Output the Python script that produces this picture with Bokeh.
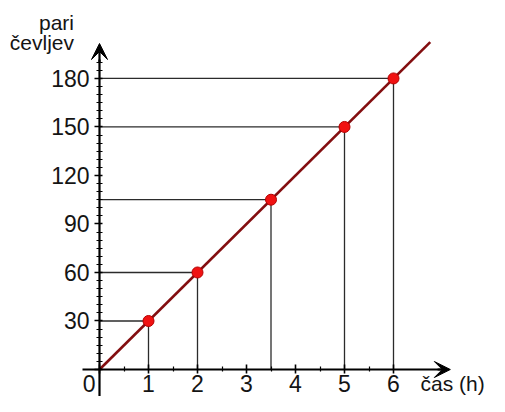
from bokeh.plotting import figure
from bokeh.models import FixedTicker, Range1d, Arrow, VeeHead, Label
from bokeh.embed import file_html
from bokeh.resources import INLINE

# data
hours = [1, 2, 3.5, 5, 6]
pairs = [30, 60, 105, 150, 180]
trend_hours = [0, 6.75]
trend_pairs = [0, 202.5]
x_ticks = [0, 1, 2, 3, 4, 5, 6]
x_labels = {0: "", 1: "1", 2: "2", 3: "3", 4: "4", 5: "5", 6: "6"}
x_minor = [0.5, 1.5, 2.5, 3.5, 4.5, 5.5]
y_ticks = [0, 30, 60, 90, 120, 150, 180]
y_minor = [5, 10, 15, 20, 25, 35, 40, 45, 50, 55, 65, 70, 75, 80, 85, 95, 100, 105, 110, 115,
           125, 130, 135, 140, 145, 155, 160, 165, 170, 175, 185, 190]
origin_label = "0"
x_title = "čas (h)"
y_title = ["pari", "čevljev"]

# layout (pixels inside the figure)
W, H = 489, 396
ORX, ORY = 99, 369          # origin position in figure pixels (from top-left)
SX, SY = 49.0, 1.617        # pixels per hour, pixels per pair

x0 = -ORX / SX
x1 = x0 + W / SX
y0 = -(H - ORY) / SY
y1 = y0 + H / SY

FONT = "Liberation Sans"
FS = "23px"
FS_T = "21px"
INK = "#141414"

p = figure(width=W, height=H, x_range=Range1d(x0, x1), y_range=Range1d(y0, y1),
           output_backend="svg", toolbar_location=None,
           min_border_left=0, min_border_top=0, min_border_right=0, min_border_bottom=0)
p.grid.visible = False
p.outline_line_color = None
p.background_fill_color = "white"

for ax in (p.xaxis, p.yaxis):
    ax.fixed_location = 0
    ax.axis_line_width = 2.2
    ax.axis_line_color = "black"
    ax.major_tick_line_color = "black"
    ax.minor_tick_line_color = "black"
    ax.major_tick_line_width = 1.6
    ax.minor_tick_line_width = 1.2
    ax.major_label_text_font = FONT
    ax.major_label_text_font_size = FS
    ax.major_label_text_color = INK

p.xaxis.bounds = (-0.35, 7.0)
p.xaxis.ticker = FixedTicker(ticks=x_ticks, minor_ticks=x_minor)
p.xaxis.major_label_overrides = x_labels
p.xaxis.major_tick_in = 5
p.xaxis.major_tick_out = 4
p.xaxis.minor_tick_in = 3
p.xaxis.minor_tick_out = 2
p.xaxis.major_label_standoff = 1

p.yaxis.bounds = (y0, 192)
p.yaxis.ticker = FixedTicker(ticks=y_ticks, minor_ticks=y_minor)
p.yaxis.major_label_overrides = {0: ""}
p.yaxis.major_tick_in = 3
p.yaxis.major_tick_out = 5
p.yaxis.minor_tick_in = 3
p.yaxis.minor_tick_out = 3
p.yaxis.major_label_standoff = 5

# guide lines
p.segment(x0=0, y0=pairs, x1=hours, y1=pairs, line_color="#2b2b2b", line_width=1.3)
p.segment(x0=hours, y0=0, x1=hours, y1=pairs, line_color="#2b2b2b", line_width=1.3)

# trend line
p.line(trend_hours, trend_pairs, line_color="#830e10", line_width=2.6)

# points
p.scatter(hours, pairs, size=11, fill_color="#f01212", line_color="#b50000", line_width=1)

# axis arrows
head = dict(size=16, fill_color="black", line_color="black", line_width=1)
p.add_layout(Arrow(end=VeeHead(**head), x_start=6.9, y_start=0, x_end=7.16, y_end=0,
                   line_width=2.2, line_color="black"))
p.add_layout(Arrow(end=VeeHead(**head), x_start=0, y_start=190, x_end=0, y_end=201.6,
                   line_width=2.2, line_color="black"))

# texts
p.add_layout(Label(x=-0.08, y=-8.7, text=origin_label, text_align="right",
                   text_baseline="alphabetic", text_font=FONT, text_font_size=FS, text_color=INK))
p.add_layout(Label(x=-0.52, y=214.6, text=y_title[0], text_align="right",
                   text_baseline="alphabetic", text_font=FONT, text_font_size=FS_T, text_color=INK))
p.add_layout(Label(x=-0.52, y=202.2, text=y_title[1], text_align="right",
                   text_baseline="alphabetic", text_font=FONT, text_font_size=FS_T, text_color=INK))
p.add_layout(Label(x=6.55, y=-8.7, text=x_title, text_align="left",
                   text_baseline="alphabetic", text_font=FONT, text_font_size=FS_T, text_color=INK))

open("out.html", "w").write(file_html(p, INLINE))
